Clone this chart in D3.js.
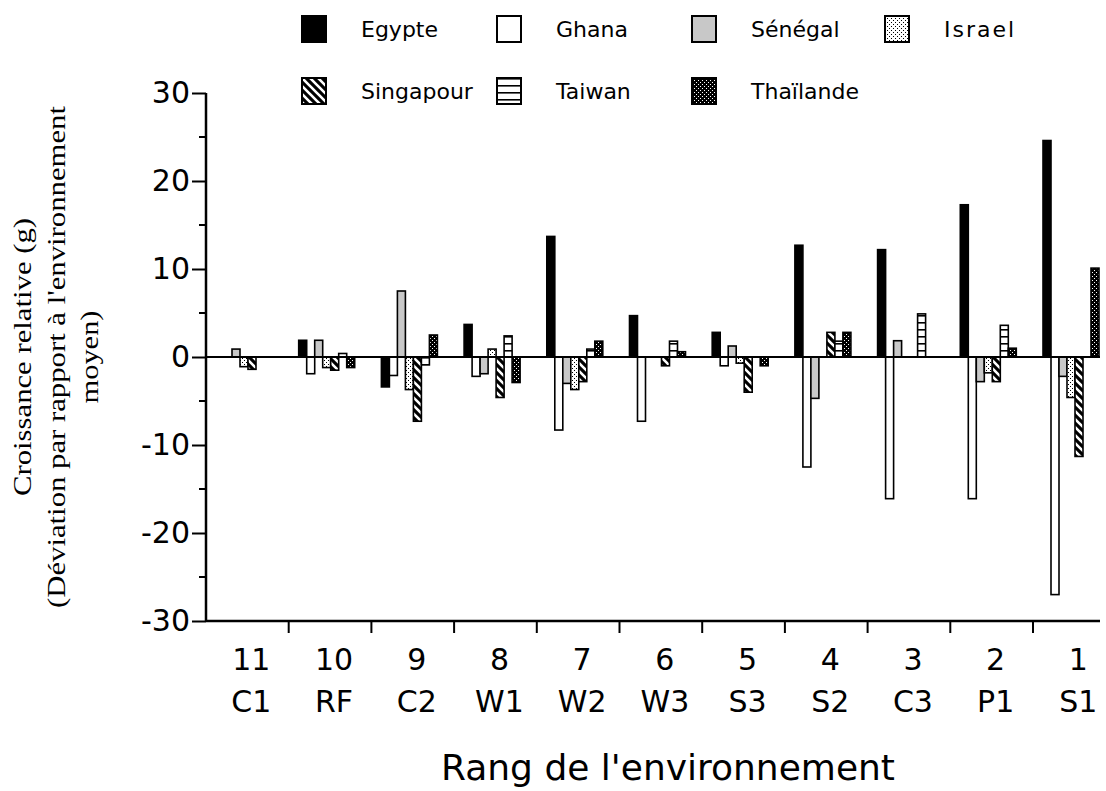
<!DOCTYPE html>
<html>
<head>
<meta charset="utf-8">
<script src="https://cdn.jsdelivr.net/npm/d3@7"></script>
<style>
  body { margin: 0; background: #fff; }
  .tick text { font-family: "DejaVu Sans", sans-serif; }
</style>
</head>
<body>
<div id="chart"></div>
<script>
//data
var ranks = ["11", "10", "9", "8", "7", "6", "5", "4", "3", "2", "1"];
var envs = ["C1", "RF", "C2", "W1", "W2", "W3", "S3", "S2", "C3", "P1", "S1"];
var series = ["Egypte", "Ghana", "Sénégal", "Israel", "Singapour", "Taiwan", "Thaïlande"];
var egypte    = [0, 1.9, -3.4, 3.7, 13.7, 4.7, 2.8, 12.7, 12.2, 17.3, 24.6];
var ghana     = [0, -1.9, -2.1, -2.2, -8.3, -7.3, -1.0, -12.5, -16.1, -16.1, -27.0];
var senegal   = [0.9, 1.9, 7.5, -1.9, -3.0, 0, 1.25, -4.7, 1.85, -2.8, -2.2];
var israel    = [-1.1, -1.2, -3.7, 0.9, -3.7, 0, -0.7, 0, 0, -1.8, -4.6];
var singapour = [-1.4, -1.5, -7.3, -4.6, -2.8, -1.0, -4.0, 2.8, 0, -2.8, -11.3];
var taiwan    = [0, 0.4, -0.9, 2.4, 0.9, 1.8, 0, 1.8, 4.9, 3.6, 0];
var thailande = [0, -1.2, 2.5, -2.9, 1.8, 0.6, -1.0, 2.8, 0, 1.0, 10.1];
var yTicks = [-30, -20, -10, 0, 10, 20, 30];
var yMinor = [-25, -15, -5, 5, 15, 25];

var values = [egypte, ghana, senegal, israel, singapour, taiwan, thailande];
var fills = ["#000", "#fff", "#c8c8c8", "url(#pIsrael)", "url(#pSing)", "url(#pTaiwan)", "url(#pThai)"];

//svg size
var svgWidth = 1106;
var svgHeight = 791;
var axisX = 206;
var xEnd = 1100;

var svg = d3.select("#chart")
    .append("svg")
    .attr("width", svgWidth)
    .attr("height", svgHeight);

//patterns
var defs = svg.append("defs");
var p1 = defs.append("pattern").attr("id", "pIsrael")
    .attr("patternUnits", "userSpaceOnUse").attr("width", 4).attr("height", 4);
p1.append("rect").attr("width", 4).attr("height", 4).attr("fill", "#fff");
p1.append("rect").attr("x", 0).attr("y", 0).attr("width", 1).attr("height", 1).attr("fill", "#000");
p1.append("rect").attr("x", 2).attr("y", 2).attr("width", 1).attr("height", 1).attr("fill", "#000");

var p2 = defs.append("pattern").attr("id", "pSing")
    .attr("patternUnits", "userSpaceOnUse").attr("width", 8).attr("height", 8);
p2.append("rect").attr("width", 8).attr("height", 8).attr("fill", "#000");
p2.append("path").attr("d", "M-2,-2L10,10M-2,6L2,10M6,-2L10,2")
    .attr("stroke", "#fff").attr("stroke-width", 2.6);

var p3 = defs.append("pattern").attr("id", "pTaiwan")
    .attr("patternUnits", "userSpaceOnUse").attr("width", 8).attr("height", 7);
p3.append("rect").attr("width", 8).attr("height", 7).attr("fill", "#fff");
p3.append("rect").attr("y", 0).attr("width", 8).attr("height", 1.6).attr("fill", "#000");

var p4 = defs.append("pattern").attr("id", "pThai")
    .attr("patternUnits", "userSpaceOnUse").attr("width", 4).attr("height", 4);
p4.append("rect").attr("width", 4).attr("height", 4).attr("fill", "#000");
[0, 1, 2, 3].forEach(function(i) {
    if (i % 2 == 0) p4.append("rect").attr("x", i).attr("y", i).attr("width", 1).attr("height", 1).attr("fill", "#fff");
});

//scales
var xScale = d3.scaleBand()
    .domain(ranks)
    .range([axisX, axisX + 11 * 82.7]);
var inner = d3.scaleBand()
    .domain(series)
    .range([10, 66]);
var yScale = d3.scaleLinear()
    .domain([-30, 30])
    .range([621, 93]);

//y axis
var yAxis = d3.axisLeft(yScale)
    .tickValues(yTicks)
    .tickSize(14)
    .tickPadding(2)
    .tickFormat(d => String(d));
var gy = svg.append("g")
    .attr("transform", `translate(${axisX}, 0)`)
    .call(yAxis);
gy.select(".domain").attr("stroke-width", 2.5).attr("d", `M0,${yScale(30)}V${yScale(-30)}`);
gy.selectAll(".tick line").attr("stroke-width", 2);
gy.selectAll(".tick text").attr("font-size", 30).attr("fill", "#000");
gy.selectAll(".minor")
    .data(yMinor)
    .enter()
    .append("line")
    .attr("class", "minor")
    .attr("x1", -7).attr("x2", 0)
    .attr("y1", d => yScale(d)).attr("y2", d => yScale(d))
    .attr("stroke", "#000").attr("stroke-width", 2);

//x axis line and ticks
svg.append("line")
    .attr("x1", axisX).attr("x2", xEnd)
    .attr("y1", yScale(-30)).attr("y2", yScale(-30))
    .attr("stroke", "#000").attr("stroke-width", 2.5);
svg.selectAll(".xtick")
    .data(ranks.slice(1))
    .enter()
    .append("line")
    .attr("class", "xtick")
    .attr("x1", d => xScale(d)).attr("x2", d => xScale(d))
    .attr("y1", yScale(-30)).attr("y2", yScale(-30) + 12)
    .attr("stroke", "#000").attr("stroke-width", 2);

//x labels
var xl = svg.selectAll(".xlab")
    .data(ranks)
    .enter()
    .append("text")
    .attr("class", "xlab")
    .attr("text-anchor", "middle")
    .attr("font-family", "DejaVu Sans, sans-serif")
    .attr("font-size", 30);
xl.append("tspan")
    .attr("x", d => xScale(d) + xScale.bandwidth() / 2 + 4)
    .attr("y", 670)
    .text(d => d);
xl.append("tspan")
    .attr("x", d => xScale(d) + xScale.bandwidth() / 2 + 4)
    .attr("y", 712)
    .text((d, i) => envs[i]);

//bars
var barData = [];
series.forEach(function(s, si) {
    values[si].forEach(function(v, ri) {
        barData.push({ s: s, si: si, rank: ranks[ri], v: v });
    });
});
svg.append("g")
    .selectAll("rect")
    .data(barData.filter(d => d.v != 0))
    .enter()
    .append("rect")
    .attr("x", d => xScale(d.rank) + inner(d.s))
    .attr("width", inner.bandwidth())
    .attr("y", d => yScale(Math.max(0, d.v)))
    .attr("height", d => Math.abs(yScale(d.v) - yScale(0)))
    .attr("fill", d => fills[d.si])
    .attr("stroke", "#000")
    .attr("stroke-width", 1.6);

//zero line
svg.append("line")
    .attr("x1", axisX).attr("x2", xEnd)
    .attr("y1", yScale(0)).attr("y2", yScale(0))
    .attr("stroke", "#000").attr("stroke-width", 2);

//legend
var legCols = [302, 497, 692, 885];
var legend = svg.selectAll(".leg")
    .data(series)
    .enter()
    .append("g")
    .attr("class", "leg")
    .attr("transform", (d, i) => `translate(${legCols[i % 4]}, ${i < 4 ? 16 : 78})`);
legend.append("rect")
    .attr("width", 24).attr("height", 26)
    .attr("fill", (d, i) => fills[i])
    .attr("stroke", "#000").attr("stroke-width", 2);
legend.append("text")
    .attr("x", 59).attr("y", 21)
    .attr("font-family", "DejaVu Sans, sans-serif")
    .attr("font-size", 22)
    .attr("letter-spacing", d => d == "Israel" ? 2 : 0)
    .text(d => d);

//axis titles
svg.append("text")
    .attr("x", 668).attr("y", 780)
    .attr("text-anchor", "middle")
    .attr("font-family", "DejaVu Sans, sans-serif")
    .attr("font-size", 36)
    .text("Rang de l'environnement");
var yTitle = [
    { t: "Croissance relative (g)", x: 31, len: 278 },
    { t: "(Déviation par rapport à l'environnement", x: 65, len: 502 },
    { t: "moyen)", x: 98, len: 93 }
];
svg.selectAll(".ytitle")
    .data(yTitle)
    .enter()
    .append("text")
    .attr("class", "ytitle")
    .attr("transform", d => `translate(${d.x}, 357) rotate(-90)`)
    .attr("text-anchor", "middle")
    .attr("font-family", "Liberation Serif, serif")
    .attr("font-size", 25)
    .attr("textLength", d => d.len)
    .attr("lengthAdjust", "spacingAndGlyphs")
    .text(d => d.t);
</script>
</body>
</html>
